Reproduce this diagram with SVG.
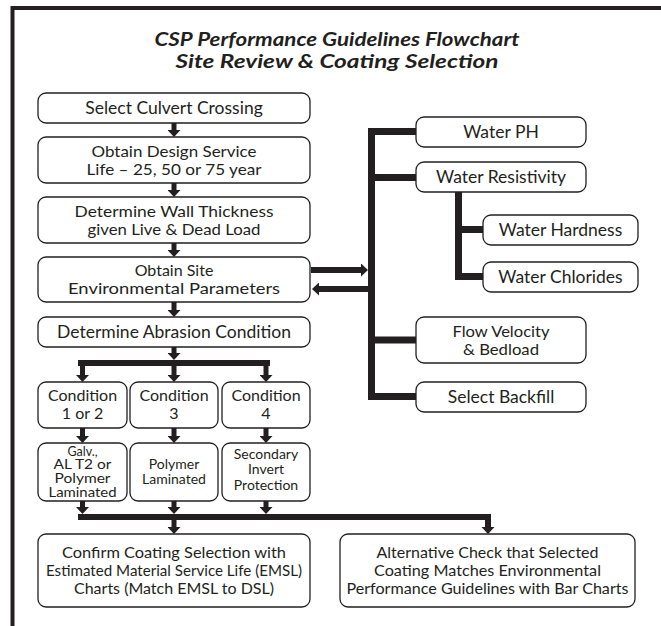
<svg xmlns="http://www.w3.org/2000/svg" width="661" height="626" viewBox="0 0 661 626">
<style>
.box{fill:#fff;stroke:#231f20;stroke-width:1.3}
.t{font-family:Lato,"Liberation Sans",sans-serif;font-size:17.5px;fill:#231f20;text-anchor:middle}
.m{font-size:16px}
.s{font-size:14px}
.g{font-size:12.5px}
.title{font-family:Lato,"Liberation Sans",sans-serif;font-size:19.5px;font-weight:bold;font-style:italic;fill:#231f20;text-anchor:middle}
.c{fill:none;stroke:#231f20;stroke-width:5}
.k{fill:none;stroke:#231f20;stroke-width:7;stroke-linejoin:miter}
.b{fill:none;stroke:#231f20;stroke-width:6}
</style>
<defs>
<marker id="ah" viewBox="0 0 7 13" refX="0" refY="6.5" markerWidth="7" markerHeight="13" orient="auto" markerUnits="userSpaceOnUse">
<path d="M0,0 L7,6.5 L0,13 z" fill="#231f20"/>
</marker>
</defs>
<path d="M12.5,626 V8 H661" fill="none" stroke="#231f20" stroke-width="4"/>
<g id="title">
<text class="title" x="337" y="46" textLength="365" lengthAdjust="spacingAndGlyphs">CSP Performance Guidelines Flowchart</text>
<text class="title" x="337" y="68" textLength="323" lengthAdjust="spacingAndGlyphs">Site Review &amp; Coating Selection</text>
</g>
<g id="connectors">
<line class="c" x1="174" y1="123" x2="174" y2="130" marker-end="url(#ah)"/>
<line class="c" x1="174" y1="183" x2="174" y2="190" marker-end="url(#ah)"/>
<line class="c" x1="174" y1="243" x2="174" y2="250" marker-end="url(#ah)"/>
<line class="c" x1="174" y1="302" x2="174" y2="310" marker-end="url(#ah)"/>
<line class="c" x1="174" y1="347" x2="174" y2="353" marker-end="url(#ah)"/>
<path class="b" d="M78,363 H270"/>
<line class="c" x1="82.5" y1="366" x2="82.5" y2="375" marker-end="url(#ah)"/>
<line class="c" x1="174" y1="366" x2="174" y2="375" marker-end="url(#ah)"/>
<line class="c" x1="266" y1="366" x2="266" y2="375" marker-end="url(#ah)"/>
<line class="c" x1="82.5" y1="428" x2="82.5" y2="436" marker-end="url(#ah)"/>
<line class="c" x1="174" y1="428" x2="174" y2="436" marker-end="url(#ah)"/>
<line class="c" x1="266" y1="428" x2="266" y2="436" marker-end="url(#ah)"/>
<line class="c" x1="82.5" y1="501" x2="82.5" y2="507" marker-end="url(#ah)"/>
<line class="c" x1="174" y1="501" x2="174" y2="507" marker-end="url(#ah)"/>
<line class="c" x1="266" y1="501" x2="266" y2="507" marker-end="url(#ah)"/>
<path class="b" d="M78,517 H488 V527"/>
<line class="c" x1="174" y1="520" x2="174" y2="527" marker-end="url(#ah)"/>
<path d="M481.5,527 H494.5 L488,534 z" fill="#231f20"/>
<line class="b" x1="311" y1="270" x2="361" y2="270" marker-end="url(#ah)"/>
<line class="b" x1="368" y1="289" x2="319" y2="289" marker-end="url(#ah)"/>
<path class="k" d="M416,131.5 H371.5 V396.5 H416"/>
<path class="k" d="M371.5,177.5 H416"/>
<path class="k" d="M371.5,340 H416"/>
<path class="k" d="M458.5,192 V276.5 H483"/>
<path class="k" d="M458.5,229.5 H483"/>
</g>
<g id="n-select">
<rect class="box" x="38" y="93" width="272" height="30" rx="8"/>
<text class="t" x="174" y="114">Select Culvert Crossing</text>
</g>
<g id="n-dsl">
<rect class="box" x="38" y="137" width="272" height="46" rx="8"/>
<text class="t m" x="174" y="156.5" textLength="165" lengthAdjust="spacingAndGlyphs">Obtain Design Service</text>
<text class="t m" x="174" y="174.5" textLength="175" lengthAdjust="spacingAndGlyphs">Life – 25, 50 or 75 year</text>
</g>
<g id="n-wall">
<rect class="box" x="38" y="197" width="272" height="46" rx="8"/>
<text class="t m" x="174" y="216.5" textLength="199" lengthAdjust="spacingAndGlyphs">Determine Wall Thickness</text>
<text class="t m" x="174" y="234.5" textLength="173" lengthAdjust="spacingAndGlyphs">given Live &amp; Dead Load</text>
</g>
<g id="n-site">
<rect class="box" x="38" y="257" width="272" height="45" rx="8"/>
<text class="t m" x="174" y="276">Obtain Site</text>
<text class="t m" x="174" y="294" textLength="212" lengthAdjust="spacingAndGlyphs">Environmental Parameters</text>
</g>
<g id="n-abrasion">
<rect class="box" x="38" y="317" width="272" height="30" rx="8"/>
<text class="t" x="174" y="338">Determine Abrasion Condition</text>
</g>
<g id="n-cond12">
<rect class="box" x="38" y="382" width="89" height="46" rx="8"/>
<text class="t m" x="82.5" y="400.5">Condition</text>
<text class="t m" x="82.5" y="418.5">1 or 2</text>
</g>
<g id="n-cond3">
<rect class="box" x="130" y="382" width="88" height="46" rx="8"/>
<text class="t m" x="174" y="400.5">Condition</text>
<text class="t m" x="174" y="418.5">3</text>
</g>
<g id="n-cond4">
<rect class="box" x="222" y="382" width="88" height="46" rx="8"/>
<text class="t m" x="266" y="400.5">Condition</text>
<text class="t m" x="266" y="418.5">4</text>
</g>
<g id="n-galv">
<rect class="box" x="38" y="443" width="89" height="58" rx="8"/>
<text class="t g" x="82.5" y="455.5">Galv.,</text>
<text class="t g" x="82.5" y="469.25" textLength="58" lengthAdjust="spacingAndGlyphs">AL T2 or</text>
<text class="t g" x="82.5" y="483" textLength="56" lengthAdjust="spacingAndGlyphs">Polymer</text>
<text class="t g" x="82.5" y="496.75" textLength="68" lengthAdjust="spacingAndGlyphs">Laminated</text>
</g>
<g id="n-polymer">
<rect class="box" x="130" y="443" width="88" height="58" rx="8"/>
<text class="t s" x="174" y="468.5">Polymer</text>
<text class="t s" x="174" y="484">Laminated</text>
</g>
<g id="n-secondary">
<rect class="box" x="222" y="443" width="88" height="58" rx="8"/>
<text class="t s" x="266" y="458.5">Secondary</text>
<text class="t s" x="266" y="474">Invert</text>
<text class="t s" x="266" y="489.5">Protection</text>
</g>
<g id="n-confirm">
<rect class="box" x="38" y="534" width="272" height="73" rx="8"/>
<text class="t m" x="174" y="558" textLength="224" lengthAdjust="spacingAndGlyphs">Confirm Coating Selection with</text>
<text class="t m" x="174" y="576" textLength="256" lengthAdjust="spacingAndGlyphs">Estimated Material Service Life (EMSL)</text>
<text class="t m" x="174" y="594" textLength="200" lengthAdjust="spacingAndGlyphs">Charts (Match EMSL to DSL)</text>
</g>
<g id="n-alternative">
<rect class="box" x="340" y="534" width="295" height="73" rx="8"/>
<text class="t m" x="487.5" y="558" textLength="222" lengthAdjust="spacingAndGlyphs">Alternative Check that Selected</text>
<text class="t m" x="487.5" y="576" textLength="227" lengthAdjust="spacingAndGlyphs">Coating Matches Environmental</text>
<text class="t m" x="487.5" y="594" textLength="282" lengthAdjust="spacingAndGlyphs">Performance Guidelines with Bar Charts</text>
</g>
<g id="n-ph">
<rect class="box" x="416" y="117" width="170" height="30" rx="8"/>
<text class="t" x="501" y="138">Water PH</text>
</g>
<g id="n-resistivity">
<rect class="box" x="416" y="162" width="170" height="30" rx="8"/>
<text class="t" x="501" y="183">Water Resistivity</text>
</g>
<g id="n-hardness">
<rect class="box" x="483" y="215" width="155" height="30" rx="8"/>
<text class="t" x="560.5" y="236">Water Hardness</text>
</g>
<g id="n-chlorides">
<rect class="box" x="483" y="262" width="155" height="30" rx="8"/>
<text class="t" x="560.5" y="283">Water Chlorides</text>
</g>
<g id="n-flow">
<rect class="box" x="416" y="317" width="170" height="46" rx="8"/>
<text class="t m" x="501" y="336.5" textLength="97" lengthAdjust="spacingAndGlyphs">Flow Velocity</text>
<text class="t m" x="501" y="354.5" textLength="76" lengthAdjust="spacingAndGlyphs">&amp; Bedload</text>
</g>
<g id="n-backfill">
<rect class="box" x="416" y="382" width="170" height="30" rx="8"/>
<text class="t" x="501" y="403">Select Backfill</text>
</g>
</svg>
